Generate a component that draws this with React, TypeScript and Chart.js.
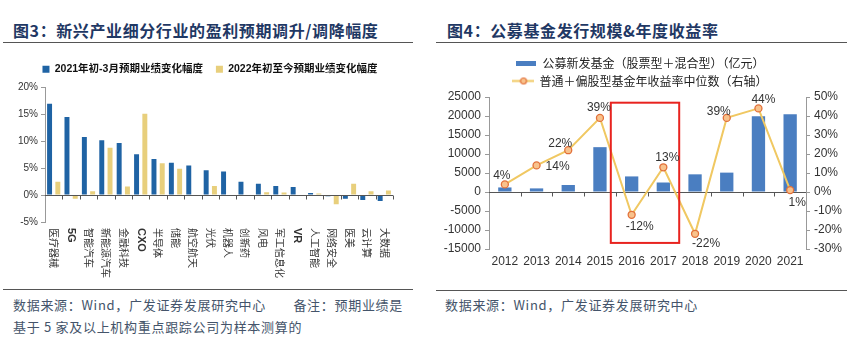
import React, { useEffect, useRef } from "react";
import { Chart, registerables } from "chart.js";

Chart.register(...registerables);

// ---------- Figure 3 data ----------
const industries = ["医疗器械", "5G", "智能汽车", "新能源汽车", "金融科技", "CXO", "半导体", "储能", "航空航天", "光伏", "机器人", "创新药", "风电", "军工信息化", "VR", "人工智能", "网络安全", "医美", "云计算", "大数据"];
const change2021 = [17.0, 14.5, 10.8, 10.2, 9.7, 7.6, 6.7, 6.0, 5.5, 4.6, 4.4, 2.5, 2.1, 1.7, 1.5, 0.4, -0.2, -0.7, -0.9, -1.1];
const change2022 = [2.5, -0.7, 0.7, 8.8, 1.6, 15.1, 5.9, 4.9, 0, 1.7, 0, 0, 0.55, 0.5, 0, 0.3, -1.7, 2.1, 0.7, 0.85];
const pctTicks3 = [-5, 0, 5, 10, 15, 20];

// ---------- Figure 4 data ----------
const years = ["2012", "2013", "2014", "2015", "2016", "2017", "2018", "2019", "2020", "2021"];
const fundIssuance = [1200, 950, 1850, 11800, 4100, 2500, 4650, 5100, 19950, 20450];
const medianReturn = [4, 14, 22, 39, -12, 13, -22, 39, 44, 1];
const leftTicks4 = [-15000, 25000, 5000];
const rightTicks4 = [-30, 50, 10];
const highlightYears = ["2016", "2017"];

// label placement (style only): [dx, dy] relative to point
const labelOffsets = [[-3, -9], [21, 1], [-8, -7], [-1, -10], [8, 12], [4, -10], [11, 10], [-8, -6], [5, -9], [7, 13]];

const FONT_LATIN = "'Liberation Sans', Arial, 'Noto Sans CJK SC', sans-serif";
const FONT_CJK = "'Noto Sans CJK SC', 'Liberation Sans', sans-serif";

const BLUE3 = "#1f63a4";
const YELLOW3 = "#e8cf7c";
const BLUE4 = "#4a7ec1";
const LINE4 = "#f0c862";

function Figure3() {
  const ref = useRef<HTMLCanvasElement>(null);
  useEffect(() => {
    const canvas = ref.current!;
    const legendShift = {
      id: "legendShift",
      afterInit(chart: any) {
        const lg = chart.legend;
        if (!lg) return;
        const orig = lg.fit.bind(lg);
        lg.fit = function () {
          orig();
          this.height += 3;
        };
      },
    };
    const axisPlugin = {
      id: "fig3axis",
      afterDatasetsDraw(chart: any) {
        const { ctx, chartArea } = chart;
        const xs = chart.scales.x;
        const ys = chart.scales.y;
        const y0 = Math.round(ys.getPixelForValue(0)) + 0.5;
        ctx.save();
        ctx.strokeStyle = "#555";
        ctx.lineWidth = 1;
        ctx.beginPath();
        ctx.moveTo(chartArea.left, y0);
        ctx.lineTo(chartArea.right, y0);
        const n = industries.length;
        const step = (xs.getPixelForValue(1) - xs.getPixelForValue(0));
        for (let i = 1; i <= n; i++) {
          const x = Math.round(xs.getPixelForValue(i) - step / 2) + 0.5;
          ctx.moveTo(x, y0);
          ctx.lineTo(x, y0 + 4);
        }
        ctx.stroke();
        ctx.restore();
      },
      afterDraw(chart: any) {
        const { ctx, chartArea } = chart;
        const xs = chart.scales.x;
        ctx.save();
        ctx.fillStyle = "#333";
        industries.forEach((lab, i) => {
          const x = xs.getPixelForValue(i);
          const latin = /^[A-Za-z0-9]+$/.test(lab);
          ctx.save();
          ctx.translate(x, chartArea.bottom + 6);
          ctx.rotate(Math.PI / 2);
          ctx.font = latin ? `bold 11px ${FONT_LATIN}` : `10px ${FONT_CJK}`;
          ctx.textAlign = "left";
          ctx.textBaseline = "middle";
          ctx.fillText(lab, 0, 0);
          ctx.restore();
        });
        ctx.restore();
      },
    };
    const chart = new Chart(canvas, {
      type: "bar",
      data: {
        labels: industries,
        datasets: [
          { label: "2021年初-3月预期业绩变化幅度", data: change2021, backgroundColor: BLUE3, barPercentage: 0.6, categoryPercentage: 0.95 },
          { label: "2022年初至今预期业绩变化幅度", data: change2022, backgroundColor: YELLOW3, barPercentage: 0.6, categoryPercentage: 0.95 },
        ],
      },
      options: {
        animation: false,
        responsive: false,
        layout: { padding: { left: 0, right: 0, top: 1, bottom: 0 } },
        plugins: {
          legend: {
            position: "top",
            labels: { boxWidth: 7, boxHeight: 7, padding: 13, color: "#111", font: { size: 10.5, weight: "bold", family: FONT_LATIN } },
          },
          tooltip: { enabled: false },
        },
        scales: {
          x: {
            grid: { display: false },
            border: { display: false },
            ticks: { display: false },
            afterFit: (s: any) => { s.height = 63; },
          },
          y: {
            min: pctTicks3[0],
            max: pctTicks3[pctTicks3.length - 1],
            afterBuildTicks: (s: any) => { s.ticks = pctTicks3.map((v) => ({ value: v })); },
            ticks: { callback: (v: any) => `${v}%`, color: "#333", font: { size: 10, family: FONT_LATIN }, padding: 3 },
            grid: { drawOnChartArea: false, drawTicks: true, tickLength: 4, color: "#999" },
            border: { color: "#999" },
            afterFit: (s: any) => { s.width = 45; },
          },
          spacer: {
            type: "linear",
            position: "right",
            grid: { display: false },
            border: { display: false },
            ticks: { display: false },
            afterFit: (s: any) => { s.width = 27; },
          },
        },
      },
      plugins: [legendShift, axisPlugin],
    });
    return () => chart.destroy();
  }, []);
  return <canvas ref={ref} width={420} height={235} style={{ position: "absolute", left: 0, top: 50, width: 420, height: 235 }} />;
}

function Figure4() {
  const ref = useRef<HTMLCanvasElement>(null);
  useEffect(() => {
    const canvas = ref.current!;
    const barSw = document.createElement("canvas");
    barSw.width = 20; barSw.height = 5;
    const bctx = barSw.getContext("2d")!;
    bctx.fillStyle = BLUE4; bctx.fillRect(0, 0, 20, 5);
    const lineSw = document.createElement("canvas");
    lineSw.width = 22; lineSw.height = 9;
    const lctx = lineSw.getContext("2d")!;
    lctx.strokeStyle = LINE4; lctx.lineWidth = 2;
    lctx.beginPath(); lctx.moveTo(0, 4.5); lctx.lineTo(22, 4.5); lctx.stroke();
    lctx.fillStyle = "#f8c28c"; lctx.strokeStyle = "#e2703a"; lctx.lineWidth = 1.2;
    lctx.beginPath(); lctx.arc(11, 4.5, 3, 0, Math.PI * 2); lctx.fill(); lctx.stroke();

    const deco = {
      id: "fig4deco",
      beforeDatasetsDraw(chart: any) {
        const { ctx, chartArea } = chart;
        const xs = chart.scales.x;
        const ys = chart.scales.y;
        const y0 = Math.round(ys.getPixelForValue(0)) + 0.5;
        const step = xs.getPixelForValue(1) - xs.getPixelForValue(0);
        ctx.save();
        ctx.strokeStyle = "#555";
        ctx.lineWidth = 1;
        ctx.beginPath();
        ctx.moveTo(chartArea.left, y0);
        ctx.lineTo(chartArea.right, y0);
        for (let i = 1; i < years.length; i++) {
          const x = Math.round(xs.getPixelForValue(i) - step / 2) + 0.5;
          ctx.moveTo(x, y0);
          ctx.lineTo(x, y0 + 4);
        }
        ctx.stroke();
        ctx.restore();
      },
      afterDatasetsDraw(chart: any) {
        const { ctx } = chart;
        const xs = chart.scales.x;
        const ys = chart.scales.y;
        const step = xs.getPixelForValue(1) - xs.getPixelForValue(0);
        const i0 = years.indexOf(highlightYears[0]);
        const i1 = years.indexOf(highlightYears[highlightYears.length - 1]);
        const x0 = xs.getPixelForValue(i0) - step / 2 - 5;
        const x1 = xs.getPixelForValue(i1) + step / 2;
        const yt = ys.getPixelForValue(23500);
        const yb = ys.getPixelForValue(-13400);
        ctx.save();
        ctx.strokeStyle = "#e8231f";
        ctx.lineWidth = 2;
        ctx.strokeRect(x0, yt, x1 - x0, yb - yt);
        // point labels
        const meta = chart.getDatasetMeta(0);
        ctx.fillStyle = "#333";
        ctx.font = `12px ${FONT_LATIN}`;
        ctx.textAlign = "center";
        ctx.textBaseline = "middle";
        meta.data.forEach((pt: any, i: number) => {
          const [dx, dy] = labelOffsets[i];
          ctx.fillText(`${medianReturn[i]}%`, pt.x + dx, pt.y + dy);
        });
        ctx.restore();
      },
    };

    const chart = new Chart(canvas, {
      type: "bar",
      data: {
        labels: years,
        datasets: [
          {
            type: "line",
            label: "普通＋偏股型基金年收益率中位数（右轴）",
            data: medianReturn,
            yAxisID: "y1",
            borderColor: LINE4,
            borderWidth: 2,
            pointRadius: 3.5,
            pointBorderWidth: 1.3,
            pointBackgroundColor: "#f8c28c",
            pointBorderColor: "#e2703a",
            tension: 0,
          } as any,
          {
            type: "bar",
            label: "公募新发基金（股票型＋混合型）（亿元）",
            data: fundIssuance,
            yAxisID: "y",
            backgroundColor: BLUE4,
            barPercentage: 0.42,
            categoryPercentage: 1,
          },
        ],
      },
      options: {
        animation: false,
        responsive: false,
        layout: { padding: { left: 0, right: 0, top: 1, bottom: 0 } },
        plugins: {
          legend: {
            position: "top",
            labels: {
              usePointStyle: true,
              pointStyleWidth: 20,
              padding: 6,
              color: "#222",
              font: { size: 12, family: FONT_CJK },
              sort: (a: any, b: any) => b.datasetIndex - a.datasetIndex,
              generateLabels: (ch: any) =>
                ch.data.datasets.map((ds: any, i: number) => ({
                  text: ds.label,
                  datasetIndex: i,
                  pointStyle: i === 1 ? barSw : lineSw,
                  fillStyle: "transparent",
                  strokeStyle: "transparent",
                  lineWidth: 0,
                  hidden: false,
                  fontColor: "#222",
                })),
            },
          },
          tooltip: { enabled: false },
        },
        scales: {
          x: {
            grid: { display: false, drawTicks: false },
            border: { display: false },
            ticks: { color: "#333", font: { size: 12, family: FONT_LATIN }, padding: 5, maxRotation: 0 },
            afterFit: (s: any) => { s.height = 41; },
          },
          y: {
            position: "left",
            min: leftTicks4[0],
            max: leftTicks4[1],
            ticks: { stepSize: leftTicks4[2], callback: (v: any) => String(v), color: "#333", font: { size: 12, family: FONT_LATIN }, padding: 4 },
            grid: { drawOnChartArea: false, drawTicks: true, tickLength: 4, color: "#999" },
            border: { color: "#999" },
            afterFit: (s: any) => { s.width = 59; },
          },
          y1: {
            position: "right",
            min: rightTicks4[0],
            max: rightTicks4[1],
            ticks: { stepSize: rightTicks4[2], callback: (v: any) => `${v}%`, color: "#333", font: { size: 12, family: FONT_LATIN }, padding: 4 },
            grid: { drawOnChartArea: false, drawTicks: true, tickLength: 4, color: "#999" },
            border: { color: "#999" },
            afterFit: (s: any) => { s.width = 45; },
          },
        },
      },
      plugins: [deco],
    });
    return () => chart.destroy();
  }, []);
  return <canvas ref={ref} width={421} height={240} style={{ position: "absolute", left: 430, top: 50, width: 421, height: 240 }} />;
}

const titleStyle: React.CSSProperties = {
  position: "absolute",
  fontFamily: FONT_CJK,
  fontWeight: 700,
  fontSize: 16,
  color: "#1f3864",
  letterSpacing: 0.6,
  whiteSpace: "nowrap",
  lineHeight: "20px",
};
const footStyle: React.CSSProperties = {
  position: "absolute",
  fontFamily: FONT_CJK,
  fontSize: 13,
  color: "#44546a",
  letterSpacing: 0.7,
  whiteSpace: "nowrap",
  lineHeight: "18px",
};
const rule = (left: number, top: number, width: number): React.CSSProperties => ({
  position: "absolute", left, top, width, height: 1, background: "#555",
});

export default function App() {
  return (
    <div style={{ position: "fixed", left: 0, top: 0, width: 851, height: 340, background: "#fff", overflow: "hidden" }}>
      <div style={{ ...titleStyle, left: 13, top: 20 }}>图3：新兴产业细分行业的盈利预期调升/调降幅度</div>
      <div style={rule(3, 42, 410)} />
      <div style={{ ...titleStyle, left: 447, top: 20 }}>图4：公募基金发行规模&amp;年度收益率</div>
      <div style={rule(436, 42, 411)} />
      <Figure3 />
      <Figure4 />
      <div style={rule(3, 289, 410)} />
      <div style={rule(436, 290, 411)} />
      <div style={{ ...footStyle, left: 13, top: 296 }}>数据来源：Wind，广发证券发展研究中心　　备注：预期业绩是</div>
      <div style={{ ...footStyle, left: 13, top: 318 }}>基于 5 家及以上机构重点跟踪公司为样本测算的</div>
      <div style={{ ...footStyle, left: 445, top: 296 }}>数据来源：Wind，广发证券发展研究中心</div>
    </div>
  );
}
